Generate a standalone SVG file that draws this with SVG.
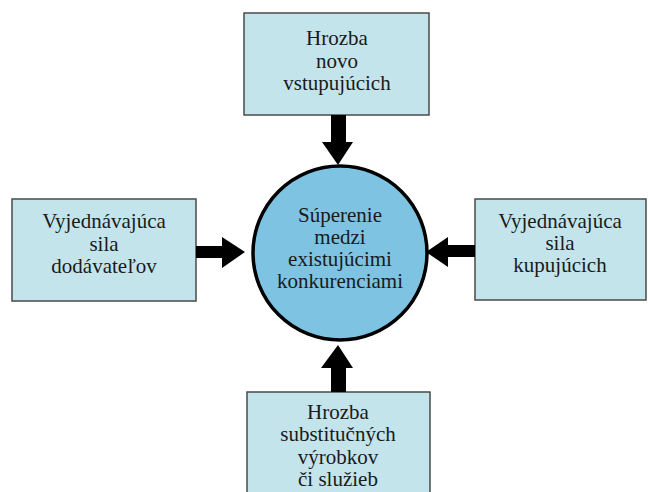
<svg xmlns="http://www.w3.org/2000/svg" width="648" height="492" viewBox="0 0 648 492">
<style>
.box{fill:#c4e4ec;stroke:#4a4a4a;stroke-width:1.5}
.hub{fill:#7ec4e2;stroke:#000;stroke-width:3.5}
.arrow{fill:#000}
text{font-family:"Liberation Serif","Times New Roman",serif;font-size:21px;fill:#1a1a1a;text-anchor:middle}
</style>
<rect width="648" height="492" fill="#fff"/>
<g id="node-top">
<rect class="box" x="244" y="13" width="185" height="102"/>
<text x="337" y="45">Hrozba</text>
<text x="337" y="68">novo</text>
<text x="337" y="90">vstupujúcich</text>
</g>
<g id="node-left">
<rect class="box" x="12" y="199" width="184" height="102"/>
<text x="104" y="228">Vyjednávajúca</text>
<text x="104" y="251">sila</text>
<text x="104" y="273">dodávateľov</text>
</g>
<g id="node-right">
<rect class="box" x="475" y="199" width="171" height="101"/>
<text x="560" y="228">Vyjednávajúca</text>
<text x="560" y="250">sila</text>
<text x="560" y="272">kupujúcich</text>
</g>
<g id="node-bottom">
<rect class="box" x="247" y="392" width="183" height="110"/>
<text x="338" y="419">Hrozba</text>
<text x="338" y="441">substitučných</text>
<text x="338" y="464">výrobkov</text>
<text x="338" y="486">či služieb</text>
</g>
<g id="node-center">
<circle class="hub" cx="340" cy="253" r="87"/>
<text x="340" y="222">Súperenie</text>
<text x="340" y="244">medzi</text>
<text x="340" y="266">existujúcimi</text>
<text x="340" y="288">konkurenciami</text>
</g>
<g id="connectors">
<polygon class="arrow" points="331,115 346,115 346,142 353,142 338,165 322,142 331,142"/>
<polygon class="arrow" points="196,246 222,246 222,237 245,252 222,268 222,258 196,258"/>
<polygon class="arrow" points="475,245 448,245 448,237 426,252 448,267 448,257 475,257"/>
<polygon class="arrow" points="331,392 346,392 346,368 353,368 338,345 321,368 331,368"/>
</g>
</svg>
